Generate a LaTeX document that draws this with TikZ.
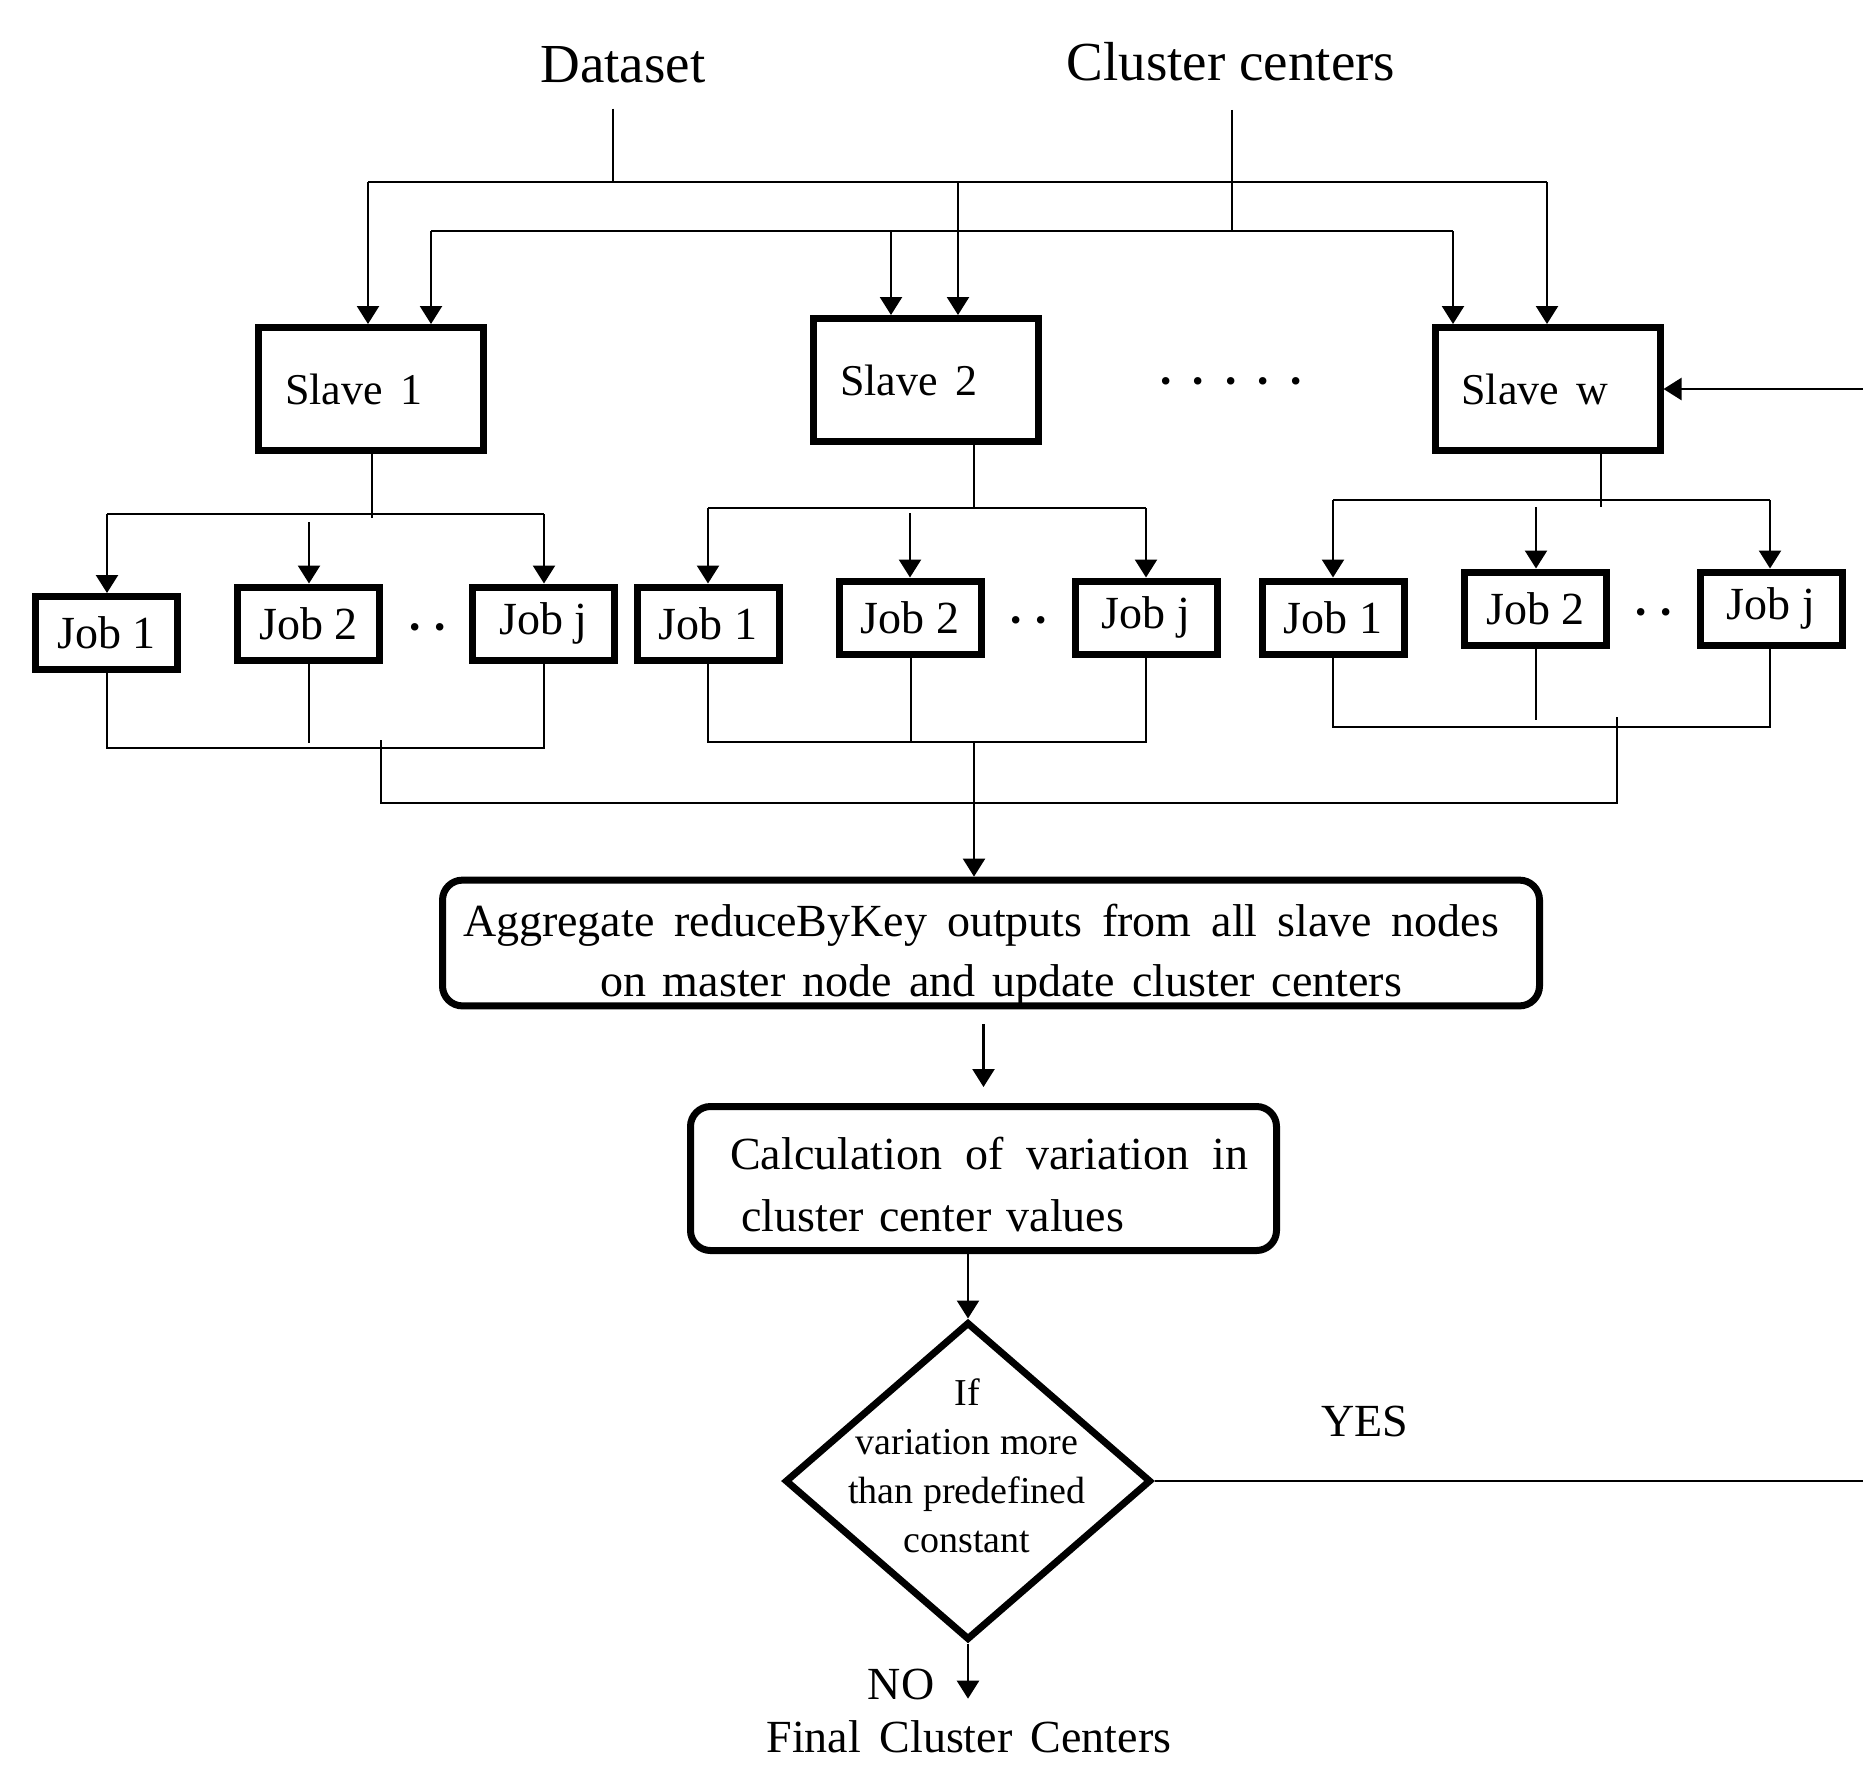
\documentclass[tikz,border=0pt]{standalone}
\usepackage{fontspec}
\setmainfont{Liberation Serif}
\usetikzlibrary{arrows.meta,shapes.geometric}
\begin{document}
\begin{tikzpicture}[x=0.5pt,y=-0.5pt,
  conn/.style={line width=1.2pt},
  arr/.style={conn,-{Triangle[length=9pt,width=11pt]}},
  slavebox/.style={draw,line width=3.5pt,minimum width=112.5pt,minimum height=61.5pt,text width=86pt,inner xsep=13.25pt,align=left,font=\fontsize{22}{26}\selectfont},
  jobbox/.style={draw,line width=3.5pt,minimum width=71pt,minimum height=36.5pt,inner sep=0pt,font=\fontsize{23}{27}\selectfont},
  roundbox/.style={draw,line width=3.5pt,rounded corners=10pt,inner sep=0pt},
  lbl/.style={font=\fontsize{23}{27}\selectfont,inner sep=0pt},
]
\useasboundingbox (0,0) rectangle (1863,1768);
\clip (0,0) rectangle (1863,1768);

% top labels
\node[lbl,font=\fontsize{27.5}{32}\selectfont] (dataset) at (623,65) {Dataset};
\node[lbl,font=\fontsize{27.5}{32}\selectfont] (centers) at (1231,62) {Cluster centers};

% slaves
\node[slavebox] (s1) at (371,389) {Slave\hspace{0.4em}1};
\node[slavebox] (s2) at (926,380) {Slave\hspace{0.4em}2};
\node[slavebox] (s3) at (1547.5,389) {Slave\hspace{0.4em}w};
\node[lbl] (sdots) at (1231,387) {\makebox[73pt][s]{\textbf{·} \textbf{·} \textbf{·} \textbf{·} \textbf{·}}};

% jobs
\node[jobbox] (a1) at (106.5,633) {Job 1};
\node[jobbox] (a2) at (308.5,623.5) {Job 2};
\node[jobbox] (a3) at (543.5,623.5) {Job j};
\node[jobbox] (b1) at (708,623.5) {Job 1};
\node[jobbox] (b2) at (910,617.5) {Job 2};
\node[jobbox] (b3) at (1146,617.5) {Job j};
\node[jobbox] (c1) at (1333,617.5) {Job 1};
\node[jobbox] (c2) at (1535.5,608.5) {Job 2};
\node[jobbox] (c3) at (1771,608.5) {Job j};
\node[lbl] (adots) at (428,633) {\textbf{·}\hspace{4.75pt}\textbf{·}};
\node[lbl] (bdots) at (1029,626) {\textbf{·}\hspace{4.75pt}\textbf{·}};
\node[lbl] (cdots) at (1654,618) {\textbf{·}\hspace{4.75pt}\textbf{·}};

% lower boxes
\node[roundbox,minimum width=548.5pt,minimum height=61.5pt,font=\fontsize{23}{30}\selectfont,align=center] (agg) at (991,943)
  {\rule{0pt}{28pt}\makebox[528pt][l]{\makebox[518pt][s]{Aggregate reduceByKey outputs from all slave nodes}}\\
   \makebox[411pt][r]{\makebox[401pt][s]{on master node and update cluster centers}}};
\node[roundbox,minimum width=293pt,minimum height=72pt,font=\fontsize{23}{31}\selectfont,align=left] (calc) at (983.5,1178.5)
  {\rule{0pt}{22pt}\hspace*{5.75pt}\makebox[259pt][s]{Calculation of variation in}\\
   \hspace*{11.25pt}\makebox[191.5pt][s]{cluster center values}};
\node[draw,diamond,line width=3.5pt,minimum width=183pt,minimum height=159pt,inner sep=0pt] (dia) at (968,1481) {};
\node[font=\fontsize{19}{24.5}\selectfont,align=center,inner sep=0pt] (diatext) at (967,1466) {If\\variation more\\than predefined\\constant};
\node[lbl] (yes) at (1365,1421) {YES};
\node[lbl] (no) at (901,1684) {NO};
\node[lbl,anchor=base] (final) at (969,1752) {Final\hspace{0.4em}Cluster\hspace{0.4em}Centers};

% dataset / cluster centers distribution
\coordinate (dsMid) at (613,182);
\coordinate (dsL) at (368,182);
\coordinate (ds2) at (958,182);
\coordinate (dsR) at (1547,182);
\draw[conn,shorten <=12.5pt] (dataset.south -| dsMid) -- (dsMid);
\draw[conn] (dsL) -- (dsR);
\draw[arr] (dsL) -- (dsL |- s1.north);
\draw[arr] (ds2) -- (ds2 |- s2.north);
\draw[arr] (dsR) -- (dsR |- s3.north);

\coordinate (ccMid) at (1232,231);
\coordinate (ccL) at (431,231);
\coordinate (cc2) at (891,231);
\coordinate (ccR) at (1453,231);
\draw[conn,shorten <=14pt] (centers.south -| ccMid) -- (ccMid);
\draw[conn] (ccL) -- (ccR);
\draw[arr] (ccL) -- (ccL |- s1.north);
\draw[arr] (cc2) -- (cc2 |- s2.north);
\draw[arr] (ccR) -- (ccR |- s3.north);

% group 1
\coordinate (s1d) at (372,518);
\coordinate (g1L) at (107,514);
\coordinate (g1M) at (309,522);
\coordinate (g1R) at (544,514);
\draw[conn] (s1.south -| s1d) -- (s1d);
\draw[conn] (g1L) -- (g1R);
\draw[arr] (g1L) -- (g1L |- a1.north);
\draw[arr] (g1M) -- (g1M |- a2.north);
\draw[arr] (g1R) -- (g1R |- a3.north);
\coordinate (h1L) at (107,748);
\coordinate (h1M) at (309,743);
\coordinate (h1R) at (544,748);
\draw[conn] (a1.south -| h1L) -- (h1L) -- (h1R) -- (a3.south -| h1R);
\draw[conn] (a2.south -| h1M) -- (h1M);

% group 2
\coordinate (s2d) at (974,508);
\coordinate (g2L) at (708,508);
\coordinate (g2M) at (910,513);
\coordinate (g2R) at (1146,508);
\draw[conn] (s2.south -| s2d) -- (s2d);
\draw[conn] (g2L) -- (g2R);
\draw[arr] (g2L) -- (g2L |- b1.north);
\draw[arr] (g2M) -- (g2M |- b2.north);
\draw[arr] (g2R) -- (g2R |- b3.north);
\coordinate (h2L) at (708,742);
\coordinate (h2M) at (911,742);
\coordinate (h2R) at (1146,742);
\coordinate (h2C) at (974,742);
\draw[conn] (b1.south -| h2L) -- (h2L) -- (h2R) -- (b3.south -| h2R);
\draw[conn] (b2.south -| h2M) -- (h2M);

% group 3
\coordinate (s3d) at (1601,507);
\coordinate (g3L) at (1333,500);
\coordinate (g3M) at (1536,507);
\coordinate (g3R) at (1770,500);
\draw[conn] (s3.south -| s3d) -- (s3d);
\draw[conn] (g3L) -- (g3R);
\draw[arr] (g3L) -- (g3L |- c1.north);
\draw[arr] (g3M) -- (g3M |- c2.north);
\draw[arr] (g3R) -- (g3R |- c3.north);
\coordinate (h3L) at (1333,727);
\coordinate (h3M) at (1536,720);
\coordinate (h3R) at (1770,727);
\draw[conn] (c1.south -| h3L) -- (h3L) -- (h3R) -- (c3.south -| h3R);
\draw[conn] (c2.south -| h3M) -- (h3M);

% lower collector
\coordinate (L1) at (381,740);
\coordinate (L1b) at (381,803);
\coordinate (L3b) at (1617,803);
\coordinate (L3) at (1617,717);
\draw[conn] (L1) -- (L1b) -- (L3b) -- (L3);
\draw[arr] (h2C) -- (h2C |- agg.north);

% flow
\draw[arr,shorten <=7.5pt,shorten >=8pt] (agg.south -| calc.north) -- (calc.north);
\draw[arr] (calc.south -| dia.north) -- (dia.north);
\coordinate (loopR) at (1890,1481);
\draw[arr] (dia.east) -- (loopR) |- (s3.east);
\draw[arr,shorten >=10.5pt] (dia.south) -- (dia.south |- final.north);
\end{tikzpicture}
\end{document}
